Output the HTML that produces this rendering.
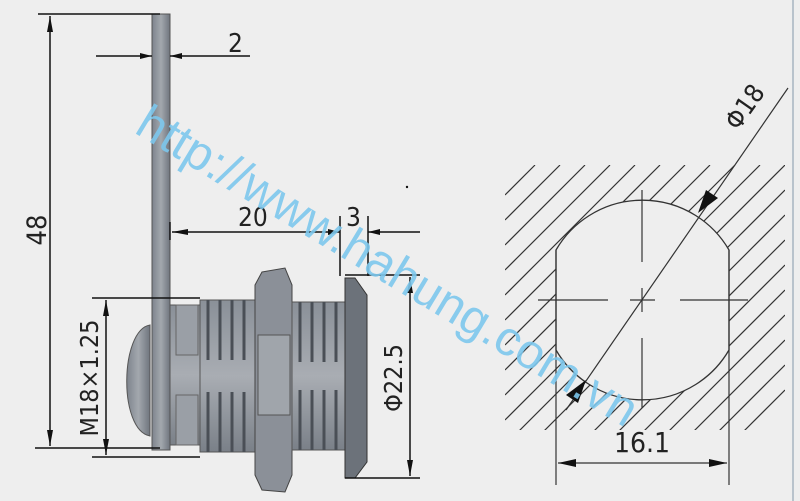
<!DOCTYPE html>
<html><head><style>
html,body{margin:0;padding:0;background:#eeeeee;}
svg{display:block;}
text{font-family:"DejaVu Sans Condensed","Liberation Sans",sans-serif;fill:#222;}
</style></head><body>
<svg width="800" height="501" viewBox="0 0 800 501" xmlns="http://www.w3.org/2000/svg">
<defs>
<marker id="a" markerWidth="12" markerHeight="6" refX="12" refY="3" orient="auto" markerUnits="userSpaceOnUse"><path d="M0,0 L12,3 L0,6 Z" fill="#111"/></marker>
<linearGradient id="g" x1="0" y1="0" x2="1" y2="0"><stop offset="0" stop-color="#7d838c"/><stop offset=".5" stop-color="#a3a8ae"/><stop offset="1" stop-color="#6f757e"/></linearGradient>
<linearGradient id="gv" x1="0" y1="0" x2="0" y2="1"><stop offset="0" stop-color="#8a9098"/><stop offset=".5" stop-color="#a9adb3"/><stop offset="1" stop-color="#7a8088"/></linearGradient>
<clipPath id="hc"><rect x="505" y="165" width="280" height="265"/></clipPath>
</defs>
<rect width="800" height="501" fill="#eeeeee"/>
<line x1="793" y1="0" x2="793" y2="501" stroke="#b9c3cc" stroke-width="2"/>

<rect x="152" y="14" width="18" height="436" fill="url(#g)" stroke="#555" stroke-width="1"/>
<path d="M150,325 C120,330 118,430 150,436 Z" fill="url(#g)" stroke="#555"/>
<rect x="170" y="305" width="32" height="140" fill="url(#gv)" stroke="#555"/>
<rect x="176" y="305" width="22" height="50" fill="#9a9fa6" stroke="#666"/>
<rect x="176" y="395" width="22" height="50" fill="#9a9fa6" stroke="#666"/>
<rect x="200" y="300" width="58" height="152" fill="url(#gv)" stroke="#555"/>
<g stroke="#4a4f56" stroke-width="3">
<line x1="208" y1="300" x2="208" y2="360"/><line x1="220" y1="300" x2="220" y2="360"/><line x1="232" y1="300" x2="232" y2="360"/><line x1="244" y1="300" x2="244" y2="360"/>
<line x1="208" y1="392" x2="208" y2="452"/><line x1="220" y1="392" x2="220" y2="452"/><line x1="232" y1="392" x2="232" y2="452"/><line x1="244" y1="392" x2="244" y2="452"/>
</g>
<path d="M262,272 L285,268 L292,285 L292,475 L285,492 L262,490 L255,475 L255,285 Z" fill="#8b9098" stroke="#444"/>
<rect x="258" y="335" width="32" height="80" fill="#a0a5ab" stroke="#555"/>
<rect x="292" y="302" width="55" height="148" fill="url(#gv)" stroke="#555"/>
<g stroke="#4a4f56" stroke-width="3">
<line x1="300" y1="302" x2="300" y2="362"/><line x1="312" y1="302" x2="312" y2="362"/><line x1="324" y1="302" x2="324" y2="362"/><line x1="336" y1="302" x2="336" y2="362"/>
<line x1="300" y1="390" x2="300" y2="450"/><line x1="312" y1="390" x2="312" y2="450"/><line x1="324" y1="390" x2="324" y2="450"/><line x1="336" y1="390" x2="336" y2="450"/>
</g>
<path d="M345,278 L355,278 L367,295 L367,462 L355,478 L345,478 Z" fill="#6c727a" stroke="#333"/>

<g stroke="#111" stroke-width="1.5" fill="none">
<line x1="38" y1="14" x2="160" y2="14"/>
<line x1="35" y1="448" x2="160" y2="448"/>
<line x1="50" y1="16" x2="50" y2="446"/>
<line x1="96" y1="56" x2="152" y2="56" marker-end="url(#a)"/>
<line x1="250" y1="56" x2="170" y2="56" marker-end="url(#a)"/>
<line x1="170" y1="222" x2="170" y2="240"/>
<line x1="172" y1="232" x2="340" y2="232" marker-end="url(#a)"/>
<line x1="420" y1="232" x2="368" y2="232" marker-end="url(#a)"/>
<line x1="340" y1="216" x2="340" y2="276"/>
<line x1="368" y1="216" x2="368" y2="276"/>
<line x1="345" y1="275" x2="420" y2="275"/>
<line x1="345" y1="478" x2="420" y2="478"/>
<line x1="410" y1="277" x2="410" y2="476"/>
<line x1="92" y1="298" x2="200" y2="298"/>
<line x1="92" y1="457" x2="200" y2="457"/>
<line x1="106" y1="300" x2="106" y2="455"/>
</g>
<g fill="#111">
<path d="M50,16 L47,32 L53,32 Z"/><path d="M50,446 L47,430 L53,430 Z"/>
<path d="M106,300 L103,316 L109,316 Z"/><path d="M106,455 L103,439 L109,439 Z"/>
<path d="M410,277 L407,293 L413,293 Z"/><path d="M410,476 L407,460 L413,460 Z"/>
<path d="M172,232 L188,229 L188,235 Z"/>
</g>
<text x="228" y="52" font-size="26">2</text>
<text x="238" y="226" font-size="26">20</text>
<text x="346" y="226" font-size="26">3</text>
<text transform="translate(46,230) rotate(-90)" font-size="27" text-anchor="middle">48</text>
<text transform="translate(98,378) rotate(-90)" font-size="25" text-anchor="middle">M18×1.25</text>
<text transform="translate(402,378) rotate(-90)" font-size="25" text-anchor="middle">Φ22.5</text>

<g clip-path="url(#hc)" stroke="#333" stroke-width="1.2">
<line x1="505" y1="195" x2="535" y2="165"/><line x1="505" y1="220" x2="560" y2="165"/><line x1="505" y1="245" x2="585" y2="165"/><line x1="505" y1="270" x2="610" y2="165"/><line x1="505" y1="295" x2="635" y2="165"/><line x1="505" y1="320" x2="660" y2="165"/><line x1="505" y1="345" x2="685" y2="165"/><line x1="505" y1="370" x2="710" y2="165"/><line x1="505" y1="395" x2="735" y2="165"/><line x1="505" y1="420" x2="760" y2="165"/><line x1="510" y1="440" x2="785" y2="165"/><line x1="535" y1="440" x2="785" y2="190"/><line x1="560" y1="440" x2="785" y2="215"/><line x1="585" y1="440" x2="785" y2="240"/><line x1="610" y1="440" x2="785" y2="265"/><line x1="635" y1="440" x2="785" y2="290"/><line x1="660" y1="440" x2="785" y2="315"/><line x1="685" y1="440" x2="785" y2="340"/><line x1="710" y1="440" x2="785" y2="365"/><line x1="735" y1="440" x2="785" y2="390"/>
</g>
<path d="M556,250 A100,100 0 0 1 729,250 L729,350 A100,100 0 0 1 556,350 Z" fill="#eeeeee" stroke="#333" stroke-width="1.3"/>
<g stroke="#333" stroke-width="1.2">
<line x1="556" y1="250" x2="556" y2="485"/><line x1="729" y1="250" x2="729" y2="485"/>
<line x1="538" y1="300" x2="608" y2="300"/><line x1="630" y1="300" x2="655" y2="300"/><line x1="680" y1="300" x2="748" y2="300"/>
<line x1="642" y1="190" x2="642" y2="262"/><line x1="642" y1="288" x2="642" y2="312"/><line x1="642" y1="338" x2="642" y2="408"/>
<line x1="788" y1="88" x2="566" y2="410"/>
<line x1="558" y1="463" x2="727" y2="463"/>
</g>
<g fill="#111">
<path d="M698,213 L706,190 L718,198 Z"/>
<path d="M586,380 L578,403 L566,395 Z"/>
<path d="M558,463 L576,459 L576,467 Z"/><path d="M727,463 L709,459 L709,467 Z"/>
</g>
<text x="614" y="452" font-size="28">16.1</text>
<text transform="translate(752,112) rotate(-55)" font-size="26" text-anchor="middle">Φ18</text>
<circle cx="407" cy="187" r="1.2" fill="#111"/>

<text transform="translate(133,132) rotate(31)" font-size="49" style="fill:#7cc6ec;font-family:'Liberation Sans',sans-serif" fill-opacity="0.9">http://www.hahung.com.vn</text>
</svg>
</body></html>
